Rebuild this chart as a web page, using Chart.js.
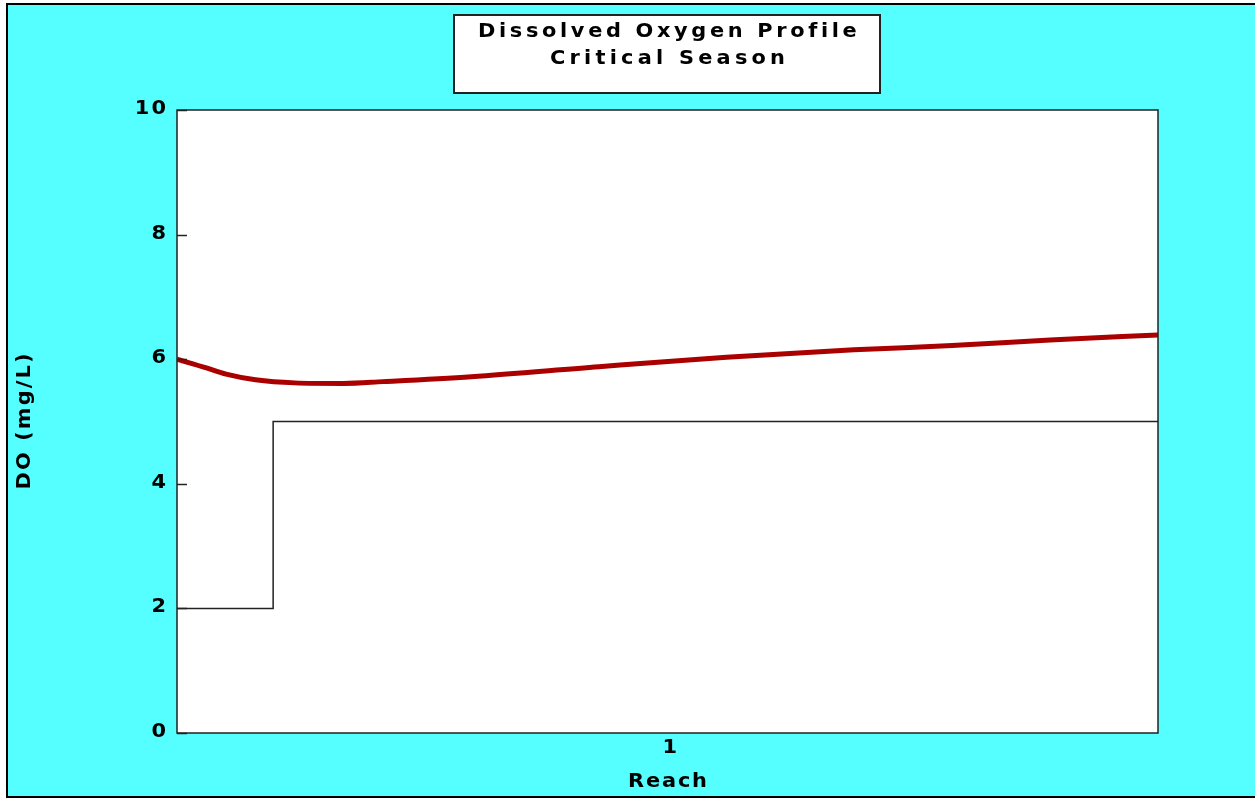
<!DOCTYPE html>
<html>
<head>
<meta charset="utf-8">
<title>Dissolved Oxygen Profile</title>
<script src="https://cdn.jsdelivr.net/npm/chart.js@4"></script>
<style>
  html, body { margin: 0; padding: 0; background: #ffffff; }
  #wrap { position: absolute; left: 0; top: 0; width: 1255px; height: 798px; }
</style>
</head>
<body>
<div id="wrap"><canvas id="chart" width="1255" height="798"></canvas></div>
<script>
// Distance along the reach (fraction of reach length) and simulated DO
const distance = [0, 0.03, 0.05, 0.08, 0.12, 0.17, 0.21, 0.30, 0.43, 0.56, 0.69, 0.79, 0.89, 1.0];
const doValues = [6.00, 5.86, 5.76, 5.67, 5.62, 5.61, 5.64, 5.72, 5.88, 6.03, 6.15, 6.22, 6.31, 6.39];

// DO water-quality standard along the reach
const standardDistance = [0, 0.098, 0.098, 1.0];
const standardValues = [2, 2, 5, 5];

// Axis ticks
const yTicks = [0, 2, 4, 6, 8, 10];
const xTickPositions = [0.5];
const xTickLabels = ['1'];

const titleLines = ['Dissolved Oxygen Profile', 'Critical Season'];
const yAxisTitle = 'DO (mg/L)';
const xAxisTitle = 'Reach';

const FONT = '"DejaVu Sans", Verdana, sans-serif';
const STRETCH = 1.1;

// draws wide-set text spread to a given visible width, centred on cx
function spreadText(ctx, text, cx, y, width) {
  ctx.save();
  ctx.letterSpacing = '0px';
  const w = ctx.measureText(text).width;
  const s = text.length > 1 ? (width / STRETCH - w) / (text.length - 1) : 0;
  ctx.letterSpacing = s + 'px';
  ctx.textAlign = 'left';
  ctx.translate(cx - width / 2, y);
  ctx.scale(STRETCH, 1);
  ctx.fillText(text, 0, 0);
  ctx.restore();
}

// draws wide-set text with fixed spacing, right edge at rx
function rightText(ctx, text, rx, y, spacing) {
  ctx.save();
  ctx.letterSpacing = '0px';
  const w = (ctx.measureText(text).width + spacing * (text.length - 1)) * STRETCH;
  ctx.letterSpacing = spacing + 'px';
  ctx.textAlign = 'left';
  ctx.translate(rx - w, y);
  ctx.scale(STRETCH, 1);
  ctx.fillText(text, 0, 0);
  ctx.restore();
}

// Cyan page frame, title box and inward tick marks
const framePlugin = {
  id: 'frame',
  beforeDraw(chart) {
    const ctx = chart.ctx;
    ctx.save();
    ctx.fillStyle = '#ffffff';
    ctx.fillRect(0, 0, chart.width, chart.height);
    ctx.fillStyle = '#55ffff';
    ctx.fillRect(7, 4, chart.width - 7, 793);
    ctx.strokeStyle = '#000000';
    ctx.lineWidth = 2;
    ctx.beginPath();
    ctx.moveTo(7, chart.height);
    ctx.lineTo(7, 4);
    ctx.lineTo(chart.width, 4);
    ctx.stroke();
    ctx.beginPath();
    ctx.moveTo(7, 797);
    ctx.lineTo(chart.width, 797);
    ctx.stroke();

    // plot area background
    const a = chart.chartArea;
    ctx.fillStyle = '#ffffff';
    ctx.fillRect(a.left, a.top, a.right - a.left, a.bottom - a.top);

    // title box
    ctx.fillStyle = '#ffffff';
    ctx.fillRect(454, 15, 426, 78);
    ctx.strokeStyle = '#222222';
    ctx.lineWidth = 2;
    ctx.strokeRect(454, 15, 426, 78);
    ctx.fillStyle = '#000000';
    ctx.font = 'bold 19px ' + FONT;
    ctx.textBaseline = 'middle';
    spreadText(ctx, titleLines[0], 667, 32, 378);
    spreadText(ctx, titleLines[1], 667.5, 59, 235);
    ctx.restore();
  },
  afterDraw(chart) {
    const ctx = chart.ctx;
    const a = chart.chartArea;
    const ys = chart.scales.y;
    const xs = chart.scales.x;
    ctx.save();
    ctx.strokeStyle = '#222222';
    ctx.lineWidth = 1.5;
    // inward tick marks on the y axis
    yTicks.forEach(v => {
      const py = Math.round(ys.getPixelForValue(v)) + 0.5;
      ctx.beginPath();
      ctx.moveTo(a.left, py);
      ctx.lineTo(a.left + 10, py);
      ctx.stroke();
    });
    // plot border
    ctx.strokeRect(a.left, a.top, a.right - a.left, a.bottom - a.top);

    // axis labels
    ctx.fillStyle = '#000000';
    ctx.font = 'bold 19px ' + FONT;
    ctx.textBaseline = 'middle';
    yTicks.forEach(v => {
      rightText(ctx, String(v), 166, ys.getPixelForValue(v) - 1, 2);
    });
    xTickPositions.forEach((p, i) => {
      spreadText(ctx, xTickLabels[i], xs.getPixelForValue(p) + 1, 748, 12);
    });
    spreadText(ctx, xAxisTitle, xs.getPixelForValue(0.5), 782, 79);
    ctx.translate(25, (a.top + a.bottom) / 2);
    ctx.rotate(-Math.PI / 2);
    spreadText(ctx, yAxisTitle, 0, 0, 136);
    ctx.restore();
  }
};

new Chart(document.getElementById('chart'), {
  type: 'line',
  data: {
    datasets: [
      {
        label: 'DO',
        data: distance.map((d, i) => ({ x: d, y: doValues[i] })),
        borderColor: '#aa0000',
        borderWidth: 5,
        pointRadius: 0,
        tension: 0.4,
        cubicInterpolationMode: 'monotone',
        fill: false
      },
      {
        label: 'Standard',
        data: standardDistance.map((d, i) => ({ x: d, y: standardValues[i] })),
        borderColor: '#222222',
        borderWidth: 1.5,
        pointRadius: 0,
        tension: 0,
        fill: false
      }
    ]
  },
  options: {
    responsive: false,
    animation: false,
    layout: { padding: { left: 177, top: 110, right: 97, bottom: 65 } },
    plugins: {
      legend: { display: false },
      title: { display: false },
      tooltip: { enabled: false }
    },
    scales: {
      x: {
        type: 'linear',
        min: 0,
        max: 1,
        display: false
      },
      y: {
        type: 'linear',
        min: 0,
        max: 10,
        display: false
      }
    }
  },
  plugins: [framePlugin]
});
</script>
</body>
</html>
